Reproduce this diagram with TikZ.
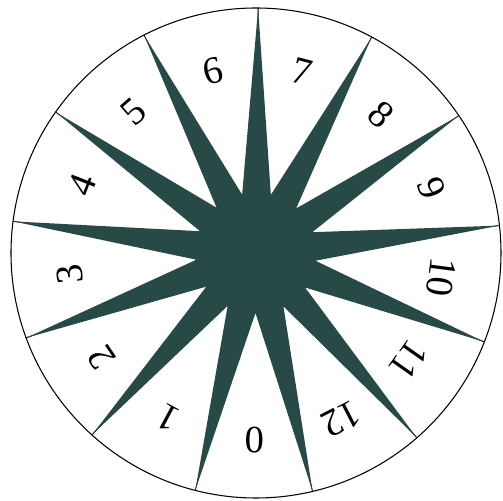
\documentclass[tikz,border=0pt]{standalone}
\usepackage{fontspec}
\setmainfont{Liberation Serif}
\usetikzlibrary{
  calc  % 坐标计算
}
\definecolor{stargreen}{RGB}{40,74,70}

\begin{document}
\begin{tikzpicture}[x=1cm, y=1cm,
  rim/.style={line width=0.6pt},
  numlabel/.style={font=\fontsize{22}{26}\selectfont, inner sep=0pt}]
  % 固定画面范围
  \useasboundingbox (-5.12, -4.96) rectangle (4.94, 5.06);

  % 外圆与 13 条分隔线
  \draw[rim] (0, 0) circle (4.9);
  \foreach \k in {0,...,12}
    \draw[line width=0.5pt] (0, 0) -- ({89.5-\k*360/13}:4.9);

  % 十三角星（中心圆盘加尖角）
  \fill[stargreen] (0, 0) circle (1.12);
  \fill[stargreen] (89.5:4.9)
    \foreach \k in {1,...,13} {
      -- ({89.5-(\k-0.5)*360/13}:1.2) -- ({89.5-\k*360/13}:4.9)
    } -- cycle;

  % 各扇形中的数字
  \foreach \n in {0,...,12}
    \node[numlabel, rotate={-180.5-\n*360/13}] (n\n)
      at ({-90.5-\n*360/13}:3.74) {\n};
\end{tikzpicture}
\end{document}
